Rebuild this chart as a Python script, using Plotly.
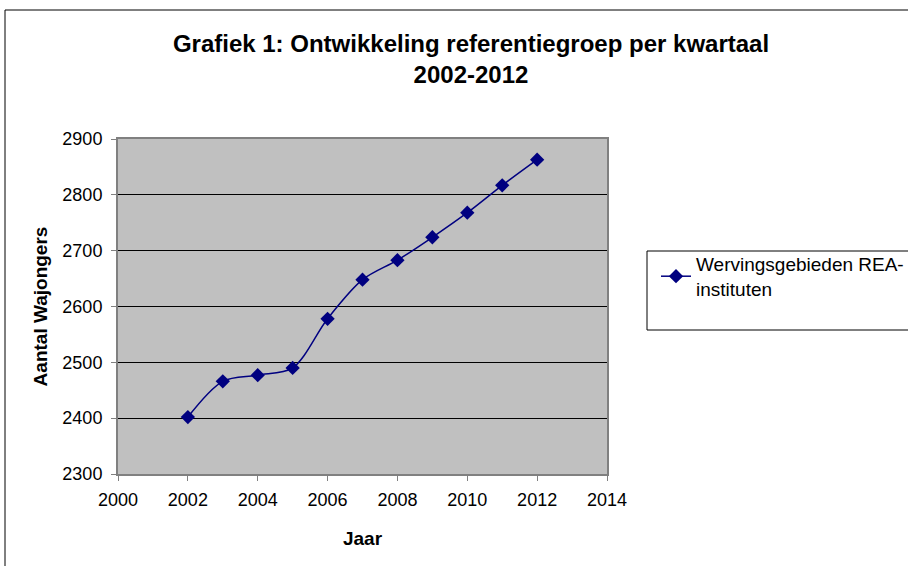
import plotly.graph_objects as go

years = [2002, 2003, 2004, 2005, 2006, 2007, 2008, 2009, 2010, 2011, 2012]
values = [2402, 2466, 2477, 2490, 2578, 2648, 2683, 2724, 2768, 2817, 2863]
series_name = "Wervingsgebieden REA-<br>instituten"
title_text = "Grafiek 1: Ontwikkeling referentiegroep per kwartaal<br>2002-2012"

W, H = 908, 566
L, R, T, B = 118, 607, 139, 474

def px(x):
    return (x - L) / (R - L)

def py(y):
    return (B - y) / (B - T)

fig = go.Figure()
fig.add_trace(go.Scatter(
    x=years, y=values, name=series_name, mode="lines+markers",
    line=dict(color="#000080", width=1.5, shape="spline", smoothing=0.9),
    marker=dict(symbol="diamond", size=11, color="#000080"),
))

fig.update_layout(
    width=W, height=H,
    margin=dict(l=L, r=W - R, t=T, b=H - B, autoexpand=False),
    paper_bgcolor="white", plot_bgcolor="#C0C0C0",
    font=dict(family="Liberation Sans, Arial, sans-serif", size=18, color="black"),
    title=dict(text="<b>" + title_text + "</b>", x=471 / W, xanchor="center",
               y=1 - 52 / H, yanchor="top", font=dict(size=24)),
    showlegend=True,
    legend=dict(x=px(656), xanchor="left", y=py(245), yanchor="top",
                bgcolor="rgba(0,0,0,0)", borderwidth=0, font=dict(size=19),
                itemwidth=30),
    xaxis=dict(range=[2000, 2014], dtick=2, tick0=2000, showgrid=False,
               showline=True, linecolor="#808080", linewidth=2, mirror=True,
               ticks="outside", ticklen=5, tickcolor="#808080", zeroline=False,
               ticklabelstandoff=3,
               title=dict(text="<b>Jaar</b>", font=dict(size=19), standoff=23)),
    yaxis=dict(range=[2300, 2900], dtick=100, showgrid=True, gridcolor="black",
               gridwidth=1, showline=True, linecolor="#808080", linewidth=2,
               mirror=True, ticks="outside", ticklen=5, tickcolor="#808080",
               zeroline=False, ticklabelstandoff=5,
               title=dict(text="<b>Aantal Wajongers</b>", font=dict(size=19), standoff=10)),
    shapes=[
        dict(type="rect", xref="paper", yref="paper",
             x0=px(5), x1=px(1000), y0=py(700), y1=py(10),
             line=dict(color="black", width=1), fillcolor="rgba(0,0,0,0)", layer="below"),
        dict(type="rect", xref="paper", yref="paper",
             x0=px(647), x1=px(1000), y0=py(330), y1=py(251),
             line=dict(color="black", width=1), fillcolor="rgba(0,0,0,0)"),
    ],
)

fig.write_html("out.html", config={"displayModeBar": False},
               post_script="document.body.style.margin='0';")
